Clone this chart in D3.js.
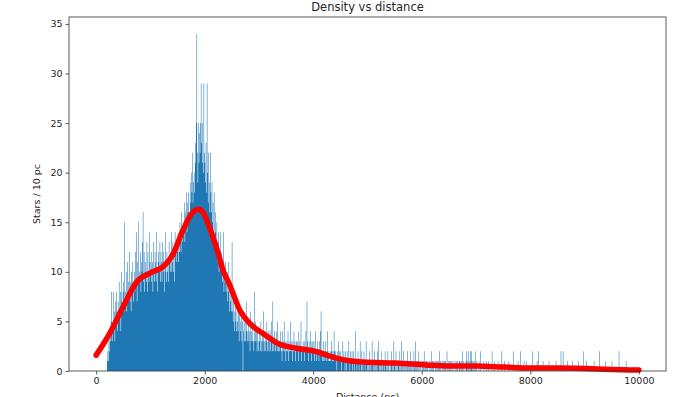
<!DOCTYPE html>
<html>
<head>
<meta charset="utf-8">
<script src="https://cdn.jsdelivr.net/npm/d3@7"></script>
<style>
  html, body { margin: 0; padding: 0; background: #fff; }
  svg text { font-family: "DejaVu Sans", sans-serif; fill: #262626; }
</style>
</head>
<body>
<svg id="chart" width="689" height="397"></svg>
<script>
// histogram: stars per 10 pc bin, 0 .. 10000 pc, one row per 1000 pc
const binWidth = 10;
const binRows = [
  // 0 - 990
  "0 0 0 0 0 0 0 0 0 0  0 0 0 0 0 0 0 0 0 0  1 2 1 3 2 4 3 5 8 3  4 8 5 6 3 7 5 8 6 4  7 5 9 6 8 4 10 7 6 8 " +
  "9 6 15 7 8 10 6 11 7 9  8 12 7 9 6 10 8 11 7 9  10 8 12 9 14 7 11 9 15 10  9 12 8 11 10 13 16 9 12 8  11 10 9 13 8 12 10 9 14 11",
  // 1000 - 1990
  "10 12 9 11 8 13 10 9 12 11  9 14 10 8 12 11 10 13 9 12  11 9 13 10 12 8 11 14 10 9  12 10 11 9 13 11 10 12 14 10  11 13 10 12 9 14 12 11 13 12 " +
  "13 11 14 12 15 13 12 16 14 13  15 14 17 13 16 15 18 14 17 16  18 16 15 19 17 20 18 22 17 19  20 18 21 23 25 34 22 19 25 21  24 22 25 29 23 21 25 20 29 22",
  // 2000 - 2990
  "21 19 23 18 29 20 17 22 19 16  22 18 16 19 15 17 14 18 13 16  14 12 15 11 13 14 10 12 11 14  10 12 9 11 14 8 10 9 11 8  9 10 7 8 11 6 9 7 8 6 " +
  "13 6 5 7 4 6 8 5 4 6  5 4 7 3 6 5 4 6 3 5  0 4 6 3 5 3 4 7 3 4  5 3 4 2 6 3 4 3 5 3  2 8 3 5 3 4 2 4 3 2",
  // 3000 - 3990
  "3 4 2 5 3 2 4 3 6 2  3 2 4 3 5 2 3 4 2 3  4 2 3 5 2 7 3 2 4 3  2 3 4 2 5 3 2 3 2 4  3 2 1 4 2 3 5 2 3 1 " +
  "2 3 2 4 1 3 2 2 5 3  2 1 3 2 4 2 3 1 2 3  3 2 1 4 2 3 2 5 1 2  2 3 2 1 3 2 4 2 7 3  2 1 3 2 4 2 1 3 2 3",
  // 4000 - 4990
  "2 3 1 2 4 2 1 3 2 2  1 3 2 4 6 2 1 2 3 1  2 1 3 2 1 2 4 1 2 1  1 2 1 3 2 1 2 1 4 2  1 2 1 0 2 1 3 1 2 1 " +
  "2 1 0 1 3 1 2 1 0 2  1 0 2 1 1 3 1 0 2 1  1 2 0 1 2 1 0 4 1 1  0 1 2 1 0 1 3 1 0 2  1 0 1 2 1 0 1 3 1 0",
  // 5000 - 5990
  "1 0 1 2 0 1 0 1 3 1  0 1 2 0 1 0 1 0 2 1  3 0 1 0 1 2 0 1 0 1  1 0 2 1 0 1 0 2 1 0  0 1 0 1 2 0 1 0 3 1 " +
  "1 0 2 0 1 0 1 1 0 2  0 1 3 0 1 0 2 0 1 0  1 0 1 2 0 1 0 1 0 2  0 1 0 1 0 2 1 0 3 0  1 0 1 0 2 0 1 0 1 0",
  // 6000 - 6990
  "0 1 0 1 2 0 1 0 1 0  1 0 0 1 0 1 0 2 0 1  0 1 0 0 1 0 1 0 0 1  1 0 2 0 1 0 0 1 0 1  0 1 0 1 0 0 2 0 1 0 " +
  "1 0 1 0 0 1 0 1 0 0  0 1 0 0 1 0 1 0 0 1  1 0 0 1 0 2 0 1 0 0  0 1 2 0 1 0 2 0 1 2  0 2 1 0 1 0 1 0 2 0",
  // 7000 - 7990
  "1 0 0 0 0 1 0 0 2 0  0 0 0 0 1 0 0 0 0 1  0 0 1 0 0 0 0 0 0 2  0 0 0 0 1 0 0 0 0 0  1 0 0 0 0 0 0 2 0 0 " +
  "0 0 1 0 0 0 0 0 0 0  1 0 0 0 0 0 0 0 2 0  0 0 0 0 0 0 0 1 0 0  0 2 0 0 0 0 0 0 1 0  0 0 0 1 0 0 0 0 0 0",
  // 8000 - 8990
  "0 0 0 0 2 0 0 0 0 0  0 0 1 0 0 2 0 0 0 0  0 0 0 1 0 0 0 0 0 0  0 0 0 0 1 0 0 0 0 0  0 0 0 0 0 0 0 1 0 0 " +
  "0 0 0 0 0 0 2 0 0 0  2 0 0 0 0 0 0 0 1 0  0 0 0 0 0 0 0 1 0 0  0 0 0 0 0 0 0 0 1 0  0 0 0 0 0 0 0 2 0 0",
  // 9000 - 9990
  "0 0 0 1 0 0 0 0 0 0  0 0 0 0 0 0 0 1 0 0  0 0 0 0 0 0 0 2 0 0  0 0 0 0 0 0 0 0 1 0  0 0 0 0 0 0 0 0 0 0 " +
  "1 0 0 0 0 0 0 0 0 0  0 0 0 2 0 0 0 0 0 0  0 0 0 0 0 0 1 0 0 0  0 0 0 0 0 0 0 0 0 0  0 0 0 0 0 0 0 0 0 0"
];

// smoothed density curve (red)
const kdeDist  = [0, 250, 500, 750, 1000, 1250, 1400, 1600, 1750, 1880, 2000, 2100, 2220, 2350, 2460, 2650, 2830, 3070, 3380, 3690, 4060, 4250, 4430, 4700, 4920, 5530, 6080, 6500, 7000, 7500, 8000, 8500, 9000, 9500, 10000];
const kdeStars = [1.6, 3.8, 6.5, 9.0, 9.9, 10.6, 11.6, 14.2, 15.8, 16.3, 15.7, 14.3, 12.4, 10.0, 8.7, 6.1, 4.8, 3.8, 2.7, 2.3, 1.95, 1.6, 1.3, 1.0, 0.9, 0.8, 0.6, 0.5, 0.5, 0.4, 0.3, 0.3, 0.25, 0.15, 0.1];

const xTicks = [0, 2000, 4000, 6000, 8000, 10000];
const yTicks = [0, 5, 10, 15, 20, 25, 30, 35];

const counts = binRows.flatMap(r => r.trim().split(/\s+/).map(Number));
const bins = counts.map((c, i) => ({ x: i * binWidth, c }));
bins.push({ x: counts.length * binWidth, c: counts[counts.length - 1] });

const margin = { top: 17, right: 23, bottom: 26, left: 69 };
const W = 689, H = 397;
const w = W - margin.left - margin.right;
const h = H - margin.top - margin.bottom;

const svg = d3.select("#chart");
const g = svg.append("g").attr("transform", `translate(${margin.left},${margin.top})`);

const x = d3.scaleLinear().domain([-500, 10500]).range([0, w]);
const y = d3.scaleLinear().domain([0, 35.7]).range([h, 0]);

// bars as one stepped area so neighbouring bins don't leave seams
const histArea = d3.area()
  .x(d => x(d.x))
  .y0(y(0))
  .y1(d => y(d.c))
  .curve(d3.curveStepAfter);

g.append("path")
  .datum(bins)
  .attr("fill", "#1f77b4")
  .attr("d", histArea);

const kde = kdeDist.map((d, i) => ({ d, s: kdeStars[i] }));
g.append("path")
  .datum(kde)
  .attr("fill", "none")
  .attr("stroke", "#ff0000")
  .attr("stroke-width", 5.5)
  .attr("stroke-linecap", "round")
  .attr("stroke-linejoin", "round")
  .attr("d", d3.line().x(d => x(d.d)).y(d => y(d.s)).curve(d3.curveMonotoneX));

// axes
const xAxis = g.append("g").attr("transform", `translate(0,${h})`)
  .call(d3.axisBottom(x).tickValues(xTicks).tickSize(3.5).tickPadding(3).tickFormat(d3.format("d")));
const yAxis = g.append("g")
  .call(d3.axisLeft(y).tickValues(yTicks).tickSize(3.5).tickPadding(3));

[xAxis, yAxis].forEach(a => {
  a.select(".domain").remove();
  a.selectAll("line").attr("stroke", "#333").attr("stroke-width", 0.8);
  a.selectAll("text").attr("font-size", 9.5).attr("fill", "#262626")
    .attr("font-family", "DejaVu Sans, sans-serif");
});

// frame
g.append("rect")
  .attr("width", w).attr("height", h)
  .attr("fill", "none").attr("stroke", "#333").attr("stroke-width", 0.8);

// labels
svg.append("text")
  .attr("x", margin.left + w / 2).attr("y", 11)
  .attr("text-anchor", "middle").attr("font-size", 11.5)
  .text("Density vs distance");

svg.append("text")
  .attr("transform", `translate(40,${margin.top + h / 2}) rotate(-90)`)
  .attr("text-anchor", "middle").attr("font-size", 9.5)
  .text("Stars / 10 pc");

// cut off at the bottom edge, as in the reference
svg.append("text")
  .attr("x", margin.left + w / 2).attr("y", 400)
  .attr("text-anchor", "middle").attr("font-size", 9.5)
  .text("Distance (pc)");
</script>
</body>
</html>
